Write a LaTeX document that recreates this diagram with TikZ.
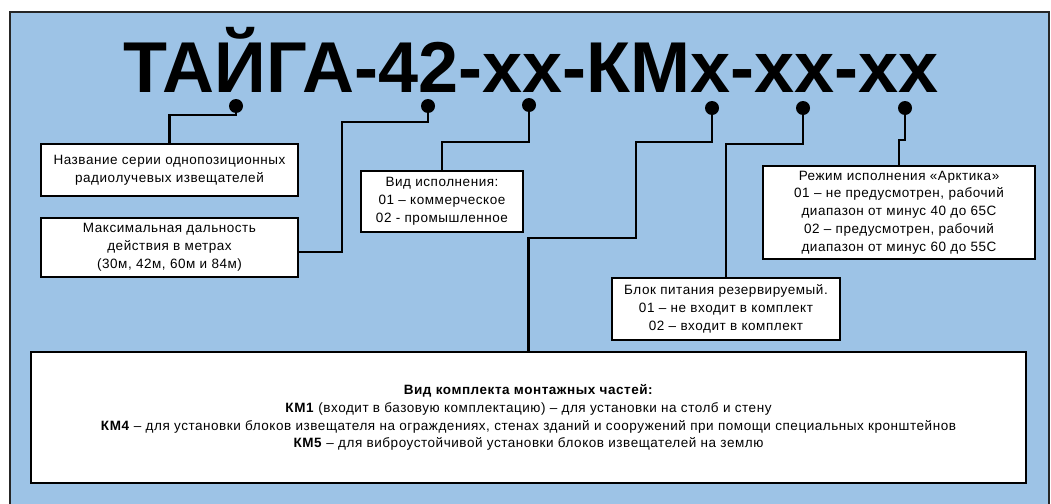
\documentclass[tikz,border=0pt]{standalone}
\usepackage{fontspec}
\setmainfont[LetterSpace=4]{Liberation Sans}
\newfontfamily\titlefont{Liberation Sans}
\definecolor{panelblue}{RGB}{157,195,230}

\begin{document}
\begin{tikzpicture}
  [x=1pt,y=-1pt,
   every node/.style={font=\fontsize{13.5}{17.8}\selectfont},
   infobox/.style={draw=black,line width=1.6pt,fill=white,align=center,inner sep=0pt},
   pin/.style={circle,fill=black,minimum size=14pt,inner sep=0pt},
   wire/.style={line width=2.2pt}]
  \clip (0,0) rectangle (1051,503);
  \fill[white] (0,0) rectangle (1051,503);
  \draw[fill=panelblue,draw=black!85,line width=2pt] (10,12) rectangle (1049,520);

  \node[anchor=base,font=\titlefont\fontsize{72}{72}\bfseries\selectfont] (title) at (531,92) {ТАЙГА-42-хх-КМх-хх-хх};

  \node[pin] (d1) at (236,106) {};
  \node[pin] (d2) at (428,106) {};
  \node[pin] (d3) at (529,105) {};
  \node[pin] (d4) at (712,108) {};
  \node[pin] (d5) at (803,108) {};
  \node[pin] (d6) at (905,108) {};

  \node[infobox,minimum width=257pt,minimum height=52pt] (series) at (169.5,170)
    {Название серии однопозиционных\\радиолучевых извещателей};
  \node[infobox,minimum width=257pt,minimum height=59pt] (range) at (169.5,247.5)
    {Максимальная дальность\\действия в метрах\\(30м, 42м, 60м и 84м)};
  \node[infobox,minimum width=162pt,minimum height=61pt] (design) at (442,201.5)
    {Вид исполнения:\\01 – коммерческое\\02 - промышленное};
  \node[infobox,minimum width=228pt,minimum height=62pt] (power) at (726,309)
    {Блок питания резервируемый.\\01 – не входит в комплект\\02 – входит в комплект};
  \node[infobox,minimum width=272pt,minimum height=93pt] (arctic) at (899,212.5)
    {Режим исполнения «Арктика»\\01 – не предусмотрен, рабочий\\диапазон от минус 40 до 65С\\02 – предусмотрен, рабочий\\диапазон от минус 60 до 55С};
  \node[infobox,minimum width=995pt,minimum height=131pt] (mount) at (528.5,417.5)
    {\textbf{Вид комплекта монтажных частей:}\\
     \textbf{КМ1} (входит в базовую комплектацию) – для установки на столб и стену\\
     \textbf{КМ4} – для установки блоков извещателя на ограждениях, стенах зданий и сооружений при помощи специальных кронштейнов\\
     \textbf{КМ5} – для виброустойчивой установки блоков извещателей на землю};

  \coordinate (k2) at (342,252);
  \coordinate (k4) at (636,238);

  \draw[wire] (d1) -- ++(0,9) -| (series);
  \draw[wire] (d2) -- ++(0,16) -| (k2) -- (range.east |- k2);
  \draw[wire] (d3) -- ++(0,37) -| (design);
  \draw[wire] (d4) -- ++(0,34) -| (k4) -| (mount);
  \draw[wire] (d5) -- ++(0,36) -| (power);
  \draw[wire] (d6) -- ++(0,32) -| (arctic);
\end{tikzpicture}
\end{document}
